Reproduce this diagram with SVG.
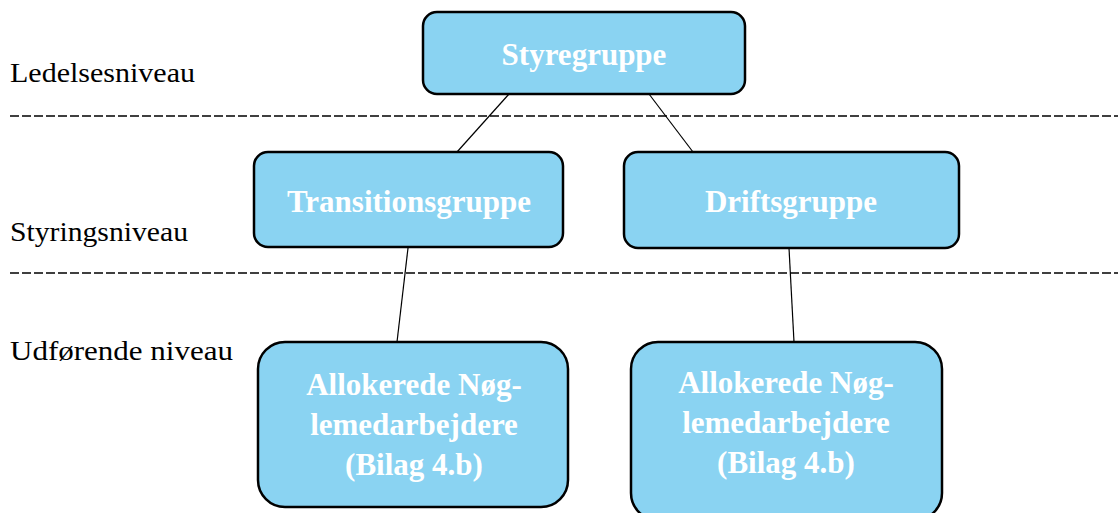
<svg xmlns="http://www.w3.org/2000/svg" width="1118" height="513" viewBox="0 0 1118 513">
<style>
.box{fill:#8AD3F2;stroke:#000;stroke-width:2.5}
.bt{font-family:"Liberation Serif",serif;font-weight:bold;font-size:31px;fill:#fff;text-anchor:middle}
.lbl{font-family:"Liberation Serif",serif;font-size:28px;fill:#000}
.dash{stroke:#000;stroke-width:1.3;stroke-dasharray:9 3;fill:none}
.conn{stroke:#000;stroke-width:1.2;fill:none}
</style>
<rect width="1118" height="513" fill="#fff"/>
<g id="levels">
<text class="lbl" x="10" y="82" textLength="185" lengthAdjust="spacingAndGlyphs">Ledelsesniveau</text>
<text class="lbl" x="10" y="241" textLength="178" lengthAdjust="spacingAndGlyphs">Styringsniveau</text>
<text class="lbl" x="10" y="360" textLength="223" lengthAdjust="spacingAndGlyphs">Udførende niveau</text>
<line class="dash" x1="10" y1="116" x2="1118" y2="116"/>
<line class="dash" x1="10" y1="273" x2="1118" y2="273"/>
</g>
<g id="connectors">
<line class="conn" x1="509" y1="94" x2="457" y2="152"/>
<line class="conn" x1="649" y1="94" x2="693" y2="152"/>
<line class="conn" x1="408" y1="248" x2="397" y2="342"/>
<line class="conn" x1="789" y1="248" x2="794" y2="342"/>
</g>
<g id="styregruppe">
<rect class="box" x="423" y="12" width="322" height="82" rx="14"/>
<text class="bt" x="584" y="65">Styregruppe</text>
</g>
<g id="transitionsgruppe">
<rect class="box" x="254" y="152" width="309" height="95" rx="14"/>
<text class="bt" x="409" y="212">Transitionsgruppe</text>
</g>
<g id="driftsgruppe">
<rect class="box" x="624" y="152" width="335" height="96" rx="14"/>
<text class="bt" x="791" y="212">Driftsgruppe</text>
</g>
<g id="allokerede1">
<rect class="box" x="258" y="342" width="310" height="165" rx="27"/>
<text class="bt" x="414" y="395">Allokerede Nøg-</text>
<text class="bt" x="414" y="435">lemedarbejdere</text>
<text class="bt" x="414" y="475">(Bilag 4.b)</text>
</g>
<g id="allokerede2">
<rect class="box" x="631" y="342" width="311" height="178" rx="27"/>
<text class="bt" x="786" y="393">Allokerede Nøg-</text>
<text class="bt" x="786" y="433">lemedarbejdere</text>
<text class="bt" x="786" y="473">(Bilag 4.b)</text>
</g>
</svg>
